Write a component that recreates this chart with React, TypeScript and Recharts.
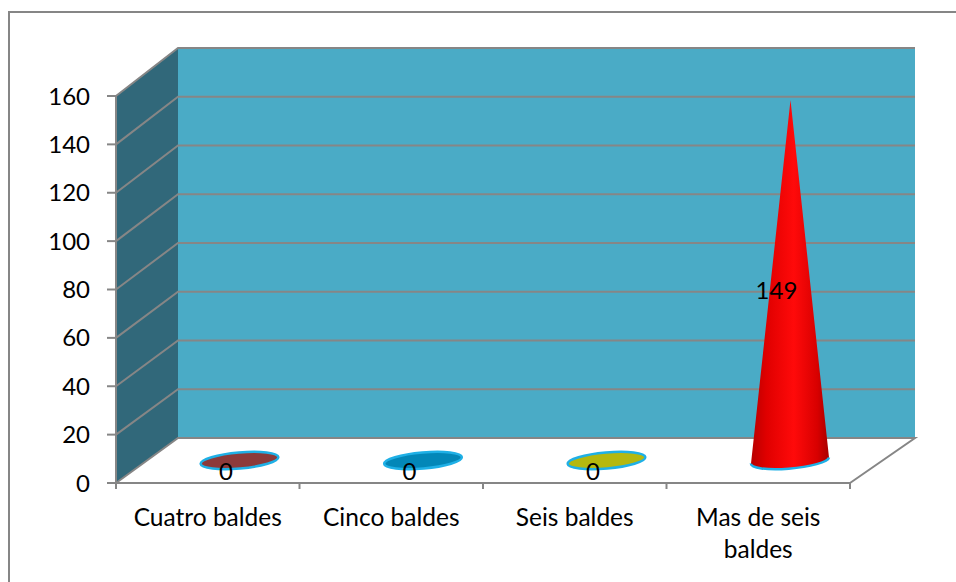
import { Bar, BarChart, CartesianGrid, LabelList, XAxis, YAxis, usePlotArea } from "recharts";

const categories = ["Cuatro baldes", "Cinco baldes", "Seis baldes", "Mas de seis baldes"];
const categoryLines = [["Cuatro baldes"], ["Cinco baldes"], ["Seis baldes"], ["Mas de seis", "baldes"]];
const counts = [0, 0, 0, 149];
const capColors = ["#8c3a3a", "#0387b8", "#b5b80f", "#ff0000"];
const yTicks = [0, 20, 40, 60, 80, 100, 120, 140, 160];

const rows = categories.map((name, i) => ({ name, count: counts[i] }));

const FONT = "Lato, 'Open Sans', sans-serif";
const GRID = "#868686";
const RIM = "#1fb0e6";

// the fake 3D box: how far the back wall sits from the front axes
const DEPTH_X = 62;
const DEPTH_Y = -45;
const backX = (x: number, left: number, width: number) => x + DEPTH_X + ((x - left) / width) * 3;
const backY = (y: number, bottom: number, height: number) => bottom + DEPTH_Y - ((bottom - y) * 390) / height;

function Walls() {
  const plot = usePlotArea();
  if (!plot) return null;
  const { x, y, width, height } = plot;
  const right = x + width;
  const bottom = y + height;
  const bx0 = backX(x, x, width);
  const bx1 = backX(right, x, width);
  const by0 = backY(y, bottom, height);
  const by1 = backY(bottom, bottom, height);
  const step = width / categories.length;
  return (
    <g>
      <polygon points={`${bx0},${by0} ${bx1},${by0} ${bx1},${by1} ${bx0},${by1}`} fill="#4aabc6" />
      <polygon points={`${x},${y} ${bx0},${by0} ${bx0},${by1} ${x},${bottom}`} fill="#31687a" />
      <polyline points={`${x},${bottom} ${bx0},${by1} ${bx1},${by1} ${right},${bottom}`} fill="none" stroke={GRID} strokeWidth={2} />
      {categories.concat("").map((_, i) => (
        <line key={i} x1={x + i * step} x2={x + i * step} y1={bottom} y2={bottom + 6} stroke={GRID} strokeWidth={2} />
      ))}
    </g>
  );
}

// each horizontal grid line runs up the side wall, then across the back wall
function GridLine(props: any) {
  const plot = usePlotArea();
  if (!plot) return null;
  const { x1, x2, y1 } = props;
  const bottom = plot.y + plot.height;
  if (Math.abs(y1 - bottom) < 1) return <g />;
  const bx0 = backX(x1, plot.x, plot.width);
  const bx1 = backX(x2, plot.x, plot.width);
  const by = backY(y1, bottom, plot.height);
  return <polyline points={`${x1},${y1} ${bx0},${by} ${bx1},${by}`} fill="none" stroke={GRID} strokeWidth={2} />;
}

function Cone(props: any) {
  const { x, y, width, height, index } = props;
  const cx = x + width / 2 + DEPTH_X / 2 + 0.5;
  const baseY = y + height + DEPTH_Y / 2;
  const topY = y + DEPTH_Y / 2;
  const rx = 39;
  const ry = 8;
  const tilt = `rotate(-5 ${cx} ${baseY})`;
  if (height < 1) {
    return <ellipse cx={cx} cy={baseY} rx={rx} ry={ry} transform={tilt} fill={capColors[index]} stroke={RIM} strokeWidth={2.5} />;
  }
  const rim = `M${cx + rx},${baseY - 3} A${rx},${ry} -5 0 1 ${cx - rx},${baseY + 3}`;
  return (
    <g>
      <path d={`M${cx + 0.5},${topY} L${cx + rx},${baseY - 3} A${rx},${ry} -5 0 1 ${cx - rx},${baseY + 3} Z`} fill="url(#coneRed)" />
      <path d={rim} fill="none" stroke={RIM} strokeWidth={2.5} />
    </g>
  );
}

function ValueLabel(props: any) {
  const { x, y, width, height, value } = props;
  return (
    <text x={x + width / 2 + 18} y={y + height / 2 - 13} textAnchor="middle" dominantBaseline="central" fontFamily={FONT} fontSize={24} fill="#000">
      {value}
    </text>
  );
}

function CategoryTick(props: any) {
  const { x, y, payload } = props;
  const lines = categoryLines[categories.indexOf(payload.value)] ?? [payload.value];
  return (
    <text x={x} y={y + 35} textAnchor="middle" fontFamily={FONT} fontSize={24.5} fill="#000">
      {lines.map((line: string, i: number) => (
        <tspan key={line} x={x} dy={i === 0 ? 0 : 32}>
          {line}
        </tspan>
      ))}
    </text>
  );
}

export default function App() {
  return (
    <div style={{ position: "absolute", left: 0, top: 0, width: 956, height: 582, background: "#fff", overflow: "hidden" }}>
      <div style={{ position: "absolute", left: 8, top: 11, width: 960, height: 600, borderLeft: "2px solid #868686", borderTop: "2px solid #868686" }} />
      <BarChart
        width={956}
        height={582}
        data={rows}
        barCategoryGap="0%"
        margin={{ top: 96, right: 106, bottom: 0, left: 10 }}
        style={{ position: "absolute", left: 0, top: 0 }}
      >
        <defs>
          <linearGradient id="coneRed" x1="0" y1="0" x2="1" y2="0">
            <stop offset="0" stopColor="#b80000" />
            <stop offset="0.2" stopColor="#e00000" />
            <stop offset="0.55" stopColor="#ff0a0a" />
            <stop offset="0.85" stopColor="#d80000" />
            <stop offset="1" stopColor="#a80000" />
          </linearGradient>
        </defs>
        <Walls />
        <CartesianGrid zIndex={1} vertical={false} horizontal={(p: any) => <GridLine key={p.key} {...p} />} />
        <XAxis
          dataKey="name"
          height={99}
          axisLine={{ stroke: GRID, strokeWidth: 2 }}
          tickLine={false}
          interval={0}
          tick={<CategoryTick />}
        />
        <YAxis
          domain={[0, 160]}
          ticks={yTicks}
          width={106}
          axisLine={{ stroke: GRID, strokeWidth: 2 }}
          tickLine={{ stroke: GRID, strokeWidth: 2 }}
          tickSize={9}
          tickMargin={17}
          interval={0}
          tick={{ fontFamily: FONT, fontSize: 24, fill: "#000" }}
        />
        <Bar dataKey="count" isAnimationActive={false} shape={<Cone />}>
          <LabelList dataKey="count" content={<ValueLabel />} />
        </Bar>
      </BarChart>
    </div>
  );
}
